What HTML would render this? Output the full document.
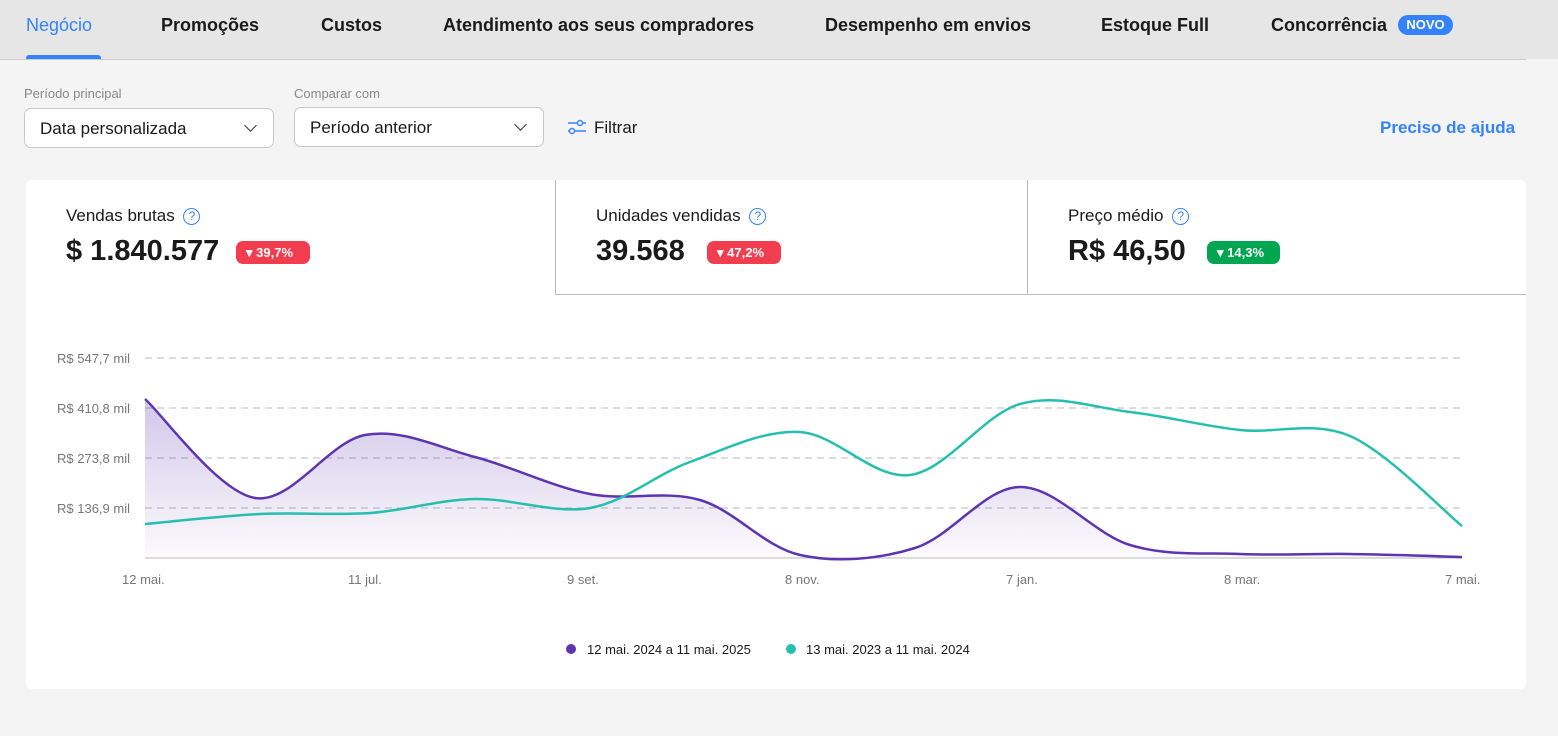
<!DOCTYPE html>
<html><head><meta charset="utf-8"><style>
*{margin:0;padding:0;box-sizing:border-box}
body{width:1558px;height:736px;background:#f4f4f4;font-family:"Liberation Sans",sans-serif;position:relative;overflow:hidden;color:#1a1a1a}
.a{position:absolute;white-space:nowrap}
.nav{position:absolute;left:0;top:0;width:1558px;height:59px;background:#e6e6e6}
.tab{position:absolute;top:15px;font-size:18px;font-weight:bold;color:#1a1a1a}
.sel{position:absolute;border:1px solid #c8c8c8;border-radius:7px;background:#fff;height:40px;font-size:17px;padding:10px 15px}
.chev{position:absolute;right:18px;top:12px;width:9px;height:9px;border-right:1.5px solid #333;border-bottom:1.5px solid #333;transform:rotate(45deg)}
.card{position:absolute;left:26px;top:180px;width:1500px;height:509px;background:#fff;border-radius:6px}
.lab{font-size:17px;color:#1a1a1a}
.q{display:inline-block;width:17px;height:17px;border:1.5px solid #3483fa;border-radius:50%;color:#3483fa;font-size:12px;text-align:center;line-height:14px;vertical-align:1px;margin-left:4px}
.val{font-size:29px;font-weight:bold}
.badge{position:absolute;height:23px;border-radius:7px;color:#fff;font-size:13px;font-weight:bold;padding:4px 0 0 10px}
.yl{position:absolute;font-size:13px;color:#777;text-align:right;width:110px}
.xl{position:absolute;font-size:13px;color:#777}
</style></head><body>
<div class="nav"></div>
<div class="a" style="left:0;top:59px;width:1526px;height:1px;background:#ccc"></div>
<div class="tab" style="left:26px;color:#3483fa;font-weight:normal">Negócio</div>
<div class="a" style="left:26px;top:55px;width:75px;height:4px;background:#3483fa;border-radius:3px 3px 0 0"></div>
<div class="tab" style="left:161px">Promoções</div>
<div class="tab" style="left:321px">Custos</div>
<div class="tab" style="left:443px">Atendimento aos seus compradores</div>
<div class="tab" style="left:825px">Desempenho em envios</div>
<div class="tab" style="left:1101px">Estoque Full</div>
<div class="tab" style="left:1271px">Concorrência</div>
<div class="a" style="left:1398px;top:15px;width:55px;height:20px;background:#3483fa;border-radius:10px;color:#fff;font-size:13px;font-weight:bold;text-align:center;line-height:20px">NOVO</div>

<div class="a" style="left:24px;top:86px;font-size:13px;color:#888">Período principal</div>
<div class="a" style="left:294px;top:86px;font-size:13px;color:#888">Comparar com</div>
<div class="sel" style="left:24px;top:108px;width:250px">Data personalizada<div class="chev"></div></div>
<div class="sel" style="left:294px;top:107px;width:250px">Período anterior<div class="chev"></div></div>
<svg class="a" style="left:567px;top:119px" width="20" height="16"><g stroke="#3483fa" stroke-width="1.5" fill="#fff"><line x1="1" y1="4" x2="19" y2="4"/><line x1="1" y1="12" x2="19" y2="12"/><circle cx="13" cy="4" r="2.5"/><circle cx="5" cy="12" r="2.5"/></g></svg>
<div class="a" style="left:594px;top:118px;font-size:17px">Filtrar</div>
<div class="a" style="left:1380px;top:118px;font-size:17px;color:#3483fa;font-weight:bold">Preciso de ajuda</div>

<div class="card"></div>
<div class="a" style="left:555px;top:180px;width:971px;height:115px;border-left:1px solid #bbb;border-bottom:1px solid #bbb"></div>
<div class="a" style="left:1027px;top:180px;height:115px;border-left:1px solid #bbb"></div>

<div class="a lab" style="left:66px;top:206px">Vendas brutas <span class="q">?</span></div>
<div class="a val" style="left:66px;top:235px">$ 1.840.577</div>
<div class="badge" style="left:236px;top:241px;width:74px;background:#f23d4f">▾ 39,7%</div>
<div class="a lab" style="left:596px;top:206px">Unidades vendidas <span class="q">?</span></div>
<div class="a val" style="left:596px;top:235px">39.568</div>
<div class="badge" style="left:707px;top:241px;width:74px;background:#f23d4f">▾ 47,2%</div>
<div class="a lab" style="left:1068px;top:206px">Preço médio <span class="q">?</span></div>
<div class="a val" style="left:1068px;top:235px">R$ 46,50</div>
<div class="badge" style="left:1207px;top:241px;width:73px;background:#00a650">▾ 14,3%</div>

<div class="yl" style="left:20px;top:351px">R$ 547,7 mil</div>
<div class="yl" style="left:20px;top:401px">R$ 410,8 mil</div>
<div class="yl" style="left:20px;top:451px">R$ 273,8 mil</div>
<div class="yl" style="left:20px;top:501px">R$ 136,9 mil</div>
<div class="xl" style="left:122px;top:572px">12 mai.</div>
<div class="xl" style="left:348px;top:572px">11 jul.</div>
<div class="xl" style="left:567px;top:572px">9 set.</div>
<div class="xl" style="left:785px;top:572px">8 nov.</div>
<div class="xl" style="left:1006px;top:572px">7 jan.</div>
<div class="xl" style="left:1224px;top:572px">8 mar.</div>
<div class="xl" style="left:1445px;top:572px">7 mai.</div>

<svg class="a" style="left:0;top:0" width="1558" height="736">
<defs><linearGradient id="g" x1="0" y1="0" x2="0" y2="1"><stop offset="0" stop-color="#5e35b1" stop-opacity=".28"/><stop offset="1" stop-color="#5e35b1" stop-opacity=".02"/></linearGradient></defs>
<g stroke="#bbb" stroke-width="1" stroke-dasharray="7,5"><line x1="145" y1="358" x2="1462" y2="358"/><line x1="145" y1="408" x2="1462" y2="408"/><line x1="145" y1="458" x2="1462" y2="458"/><line x1="145" y1="508" x2="1462" y2="508"/></g>
<line x1="145" y1="558" x2="1462" y2="558" stroke="#bbb"/>
<path id="pa" fill="url(#g)"/>
<path id="p1" fill="none" stroke="#5e35b1" stroke-width="2.5"/>
<path id="p2" fill="none" stroke="#26bfae" stroke-width="2.5"/>
<circle cx="571" cy="649" r="5" fill="#5e35b1"/><circle cx="791" cy="649" r="5" fill="#26bfae"/>
<text x="587" y="654" font-size="13" font-family="Liberation Sans" fill="#1a1a1a">12 mai. 2024 a 11 mai. 2025</text>
<text x="806" y="654" font-size="13" font-family="Liberation Sans" fill="#1a1a1a">13 mai. 2023 a 11 mai. 2024</text>
</svg>
<script>
function cr(p){var d="M"+p[0][0]+","+p[0][1];for(var i=0;i<p.length-1;i++){var a=p[i-1]||p[i],b=p[i],c=p[i+1],e=p[i+2]||c;d+=" C"+(b[0]+(c[0]-a[0])/6)+","+(b[1]+(c[1]-a[1])/6)+" "+(c[0]-(e[0]-b[0])/6)+","+(c[1]-(e[1]-b[1])/6)+" "+c[0]+","+c[1];}return d;}
var P=[[145,399],[255,498],[365,435],[475,457],[590,494],[700,500],[800,555],[915,548],[1020,487],[1130,545],[1240,554],[1350,554],[1462,557]];
var T=[[145,524],[260,514],[370,513],[475,499],[590,508],[690,462],[800,432],[910,475],[1020,404],[1130,412],[1240,430],[1350,436],[1462,526]];
var d=cr(P);
document.getElementById('p1').setAttribute('d',d);
document.getElementById('pa').setAttribute('d',d+" L1462,558 L145,558 Z");
document.getElementById('p2').setAttribute('d',cr(T));
</script>
</body></html>
